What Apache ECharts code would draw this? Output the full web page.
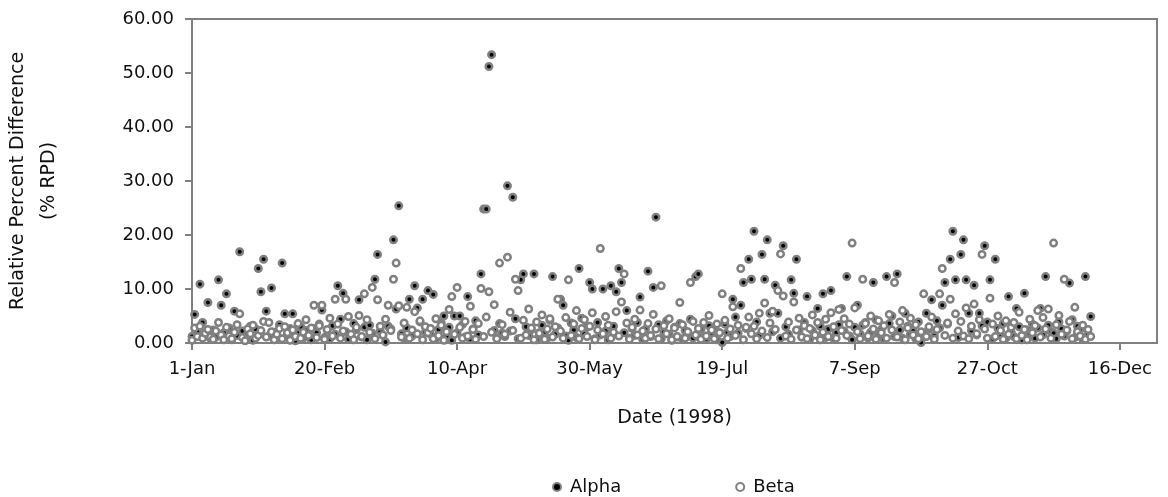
<!DOCTYPE html>
<html>
<head>
<meta charset="utf-8">
<script src="https://cdn.jsdelivr.net/npm/echarts@6/dist/echarts.min.js"></script>
<style>
  html, body { margin: 0; padding: 0; background: #fff; }
  #chart { width: 1168px; height: 497px; }
</style>
</head>
<body>
<div id="chart"></div>
<script>
// Daily relative percent difference; index 0 = 1 January.
// Tick dates are counted on a 366-day calendar (20-Feb -> 10-Apr is 50 days).
const tickCalendarYear = 2000;
const monthNames = ['Jan','Feb','Mar','Apr','May','Jun','Jul','Aug','Sep','Oct','Nov','Dec'];
const yTicks = [0, 10, 20, 30, 40, 50, 60];

const alphaRpd = [
  1.2, 5.3, 2.1, 10.9, 3.8, 1.6, 7.5, 0.8, 2.4, 1.1,
  11.7, 7.0, 1.9, 9.1, 2.8, 0.6, 5.9, 1.4, 16.9, 2.2,
  0.9, 1.7, 3.1, 0.5, 2.6, 13.8, 9.5, 15.5, 5.9, 1.3,
  10.2, 2.0, 0.7, 3.4, 14.8, 5.4, 1.5, 2.7, 5.4, 0.4,
  1.8, 3.0, 0.9, 2.3, 1.2, 0.6, 2.7, 1.9, 3.5, 6.1,
  1.0, 2.4, 0.8, 3.2, 1.6, 10.6, 4.4, 9.2, 2.1, 0.7,
  1.5, 3.6, 2.5, 8.0, 1.1, 2.9, 0.6, 3.3, 1.8, 11.8,
  16.4, 2.2, 1.4, 0.2, 3.1, 2.6, 19.1, 6.3, 25.4, 1.7,
  0.9, 2.8, 8.1, 1.3, 10.6, 6.5, 3.9, 8.1, 2.0, 9.7,
  1.6, 9.0, 0.8, 2.5, 3.7, 5.0, 1.2, 2.9, 0.5, 5.0,
  1.9, 5.0, 3.4, 1.1, 8.6, 0.7, 2.6, 4.1, 1.5, 12.8,
  24.8, 24.8, 51.2, 53.4, 2.3, 0.9, 3.6, 1.8, 1.2, 29.1,
  2.2, 27.0, 4.5, 0.8, 11.7, 12.8, 3.0, 1.4, 2.5, 12.8,
  0.6, 1.9, 3.3, 2.1, 0.9, 4.2, 12.3, 1.6, 2.8, 8.1,
  7.0, 1.3, 0.5, 3.7, 2.4, 1.0, 13.8, 4.6, 1.7, 2.9,
  11.2, 10.0, 0.8, 3.8, 1.5, 10.0, 2.2, 0.6, 10.6, 3.1,
  9.5, 13.8, 11.2, 1.9, 6.0, 0.9, 2.7, 1.4, 3.8, 8.5,
  0.7, 2.5, 13.3, 1.2, 10.3, 23.3, 3.4, 0.8, 2.0, 4.1,
  1.6, 0.5, 2.9, 1.1, 3.6, 0.8, 2.3, 1.5, 4.4, 0.9,
  12.3, 12.8, 2.6, 1.3, 0.7, 3.2, 1.8, 2.4, 0.6, 1.9,
  0.1, 3.5, 2.0, 1.2, 8.1, 4.8, 1.8, 7.0, 11.2, 2.7,
  15.5, 11.8, 20.7, 3.9, 1.4, 16.4, 11.8, 19.1, 5.5, 2.1,
  10.7, 5.5, 0.9, 18.0, 3.0, 1.6, 11.7, 9.2, 15.5, 2.4,
  1.1, 3.8, 8.6, 0.7, 2.3, 1.5, 6.4, 3.1, 9.1, 1.0,
  2.6, 9.7, 0.8, 1.9, 3.4, 6.4, 2.2, 12.3, 1.3, 0.6,
  2.9, 7.0, 1.7, 3.3, 3.8, 0.9, 2.0, 11.2, 4.3, 1.4,
  2.5, 0.7, 12.3, 3.6, 5.0, 1.2, 12.8, 2.4, 0.9, 5.5,
  3.1, 1.6, 2.2, 0.8, 3.9, 0.1, 1.9, 5.5, 2.6, 8.0,
  1.3, 4.1, 2.8, 7.0, 11.2, 3.5, 15.5, 20.7, 11.7, 1.0,
  16.4, 19.1, 11.7, 5.5, 2.3, 10.7, 1.5, 5.5, 3.2, 18.0,
  3.9, 11.7, 0.8, 15.5, 2.7, 1.4, 3.6, 0.9, 8.6, 2.0,
  1.2, 6.4, 3.0, 0.6, 9.2, 2.4, 1.7, 3.5, 0.9, 2.8,
  6.4, 1.5, 12.3, 3.3, 2.1, 1.8, 0.8, 3.9, 2.6, 1.3,
  2.2, 11.1, 4.3, 1.0, 3.1, 2.5, 0.7, 12.3, 1.6, 4.9
];

const betaRpd = [
  0.5, 2.8, 1.2, 3.1, 0.9, 1.8, 2.5, 1.1, 0.7, 2.2,
  3.8, 1.5, 0.6, 2.9, 1.3, 0.8, 2.0, 3.4, 5.4, 1.0,
  0.4, 2.6, 1.7, 3.3, 0.9, 1.4, 2.3, 4.0, 1.1, 3.8,
  2.1, 0.6, 1.6, 2.7, 0.8, 3.0, 1.9, 0.5, 2.4, 1.2,
  3.6, 0.9, 2.0, 4.3, 1.4, 2.8, 7.0, 1.0, 3.2, 7.0,
  0.7, 2.5, 4.6, 1.3, 8.1, 3.5, 0.9, 2.2, 8.1, 4.9,
  1.6, 0.6, 2.9, 5.1, 1.2, 9.1, 4.3, 2.0, 10.3, 0.8,
  8.0, 3.1, 1.5, 4.4, 7.0, 2.3, 11.8, 14.8, 6.9, 1.1,
  3.7, 6.6, 0.9, 2.4, 5.8, 1.7, 4.1, 0.6, 3.0, 1.9,
  2.7, 0.8, 4.5, 1.4, 3.3, 0.5, 2.1, 6.2, 8.6, 1.6,
  10.3, 2.9, 0.9, 4.0, 1.3, 6.8, 2.5, 0.7, 3.6, 10.1,
  1.2, 4.8, 9.5, 2.0, 7.1, 0.8, 14.8, 3.4, 1.6, 15.9,
  5.7, 2.3, 11.8, 9.7, 0.9, 4.2, 1.5, 6.3, 2.8, 0.6,
  3.9, 1.8, 5.2, 0.7, 2.6, 4.5, 1.1, 3.0, 8.1, 2.2,
  0.9, 4.7, 11.7, 1.4, 3.5, 6.0, 0.8, 2.7, 4.3, 1.2,
  3.1, 5.6, 0.6, 2.4, 17.5, 1.7, 4.9, 3.3, 0.9, 2.0,
  5.8, 1.3, 7.6, 12.8, 3.7, 0.7, 2.9, 4.4, 1.5, 6.1,
  2.2, 0.9, 3.6, 1.4, 5.3, 2.6, 0.8, 10.6, 3.2, 1.7,
  4.5, 0.6, 2.8, 1.2, 7.5, 3.4, 0.9, 2.1, 11.2, 4.0,
  1.5, 2.7, 0.7, 3.8, 1.3, 5.1, 2.4, 0.8, 3.5, 1.9,
  9.1, 4.2, 0.9, 2.6, 6.7, 1.4, 3.3, 13.8, 0.6, 2.9,
  4.8, 1.7, 3.1, 0.8, 5.5, 2.2, 7.4, 1.0, 3.7, 5.9,
  2.5, 9.7, 16.5, 8.7, 1.3, 3.9, 0.7, 7.6, 2.4, 4.6,
  1.1, 3.2, 0.8, 2.7, 5.2, 1.5, 3.8, 0.6, 2.0, 4.4,
  1.2, 5.6, 3.0, 0.9, 6.2, 2.3, 4.5, 1.4, 3.5, 18.5,
  6.5, 2.1, 0.8, 11.8, 3.6, 1.3, 5.0, 2.6, 0.7, 4.1,
  1.9, 3.2, 0.9, 5.3, 2.4, 11.2, 1.1, 3.9, 6.0, 0.6,
  2.8, 4.6, 1.5, 3.4, 0.8, 2.1, 9.1, 1.2, 3.0, 4.8,
  0.7, 2.5, 9.1, 13.8, 1.4, 3.7, 8.1, 0.9, 5.4, 2.2,
  4.0, 1.3, 6.5, 0.8, 3.1, 7.2, 1.7, 4.3, 16.4, 2.6,
  0.9, 8.3, 3.5, 1.2, 5.0, 2.3, 0.7, 4.1, 1.6, 2.9,
  3.8, 0.8, 5.7, 1.4, 2.5, 0.6, 4.4, 1.9, 3.2, 6.0,
  1.1, 4.7, 2.6, 6.3, 0.9, 18.5, 3.4, 5.1, 1.6, 11.8,
  2.4, 4.0, 0.8, 6.6, 2.1, 1.3, 3.3, 0.7, 2.5, 1.2
];

const FONT = 'DejaVu Sans';
const GREY = '#808080';
const INK = '#111111';

function dayLabel(offset) {
  const d = new Date(Date.UTC(tickCalendarYear, 0, 1) + offset * 86400000);
  return d.getUTCDate() + '-' + monthNames[d.getUTCMonth()];
}

const toPoints = arr => arr.map((v, i) => [i, v]);

const chart = echarts.init(document.getElementById('chart'));
chart.setOption({
  animation: false,
  backgroundColor: '#ffffff',
  grid: {
    left: 192, right: 11, top: 19, bottom: 154,
    outerBoundsMode: 'none',
    containLabel: false,
    show: true, borderColor: GREY, borderWidth: 2, backgroundColor: 'transparent'
  },
  xAxis: {
    type: 'value',
    min: 0, max: 364, interval: 50,
    name: 'Date (1998)',
    nameLocation: 'middle',
    nameGap: 66,
    nameTextStyle: { fontFamily: FONT, fontSize: 19, color: INK },
    axisLine: { show: true, lineStyle: { color: GREY, width: 2 } },
    axisTick: { show: true, inside: false, length: 7, lineStyle: { color: GREY, width: 2 } },
    axisLabel: {
      showMaxLabel: false,
      margin: 17,
      fontFamily: FONT, fontSize: 18, color: INK,
      formatter: v => (v % 50 === 0 ? dayLabel(v) : '')
    },
    splitLine: { show: false }
  },
  yAxis: {
    type: 'value',
    min: yTicks[0], max: yTicks[yTicks.length - 1], interval: 10,
    name: 'Relative Percent Difference\n(% RPD)',
    nameLocation: 'middle',
    nameGap: 127,
    nameTextStyle: { fontFamily: FONT, fontSize: 19, color: INK, lineHeight: 31 },
    axisLine: { show: true, lineStyle: { color: GREY, width: 2 } },
    axisTick: { show: true, inside: false, length: 7, lineStyle: { color: GREY, width: 2 } },
    axisLabel: {
      margin: 18,
      fontFamily: FONT, fontSize: 18, color: INK,
      formatter: v => v.toFixed(2)
    },
    splitLine: { show: false }
  },
  legend: {
    left: 547, top: 473,
    itemWidth: 8, itemHeight: 8, itemGap: 114,
    icon: 'circle',
    textStyle: { fontFamily: FONT, fontSize: 18, color: INK, padding: [0, 0, 0, 4] },
    data: ['Alpha', 'Beta']
  },
  series: [
    {
      name: 'Alpha',
      type: 'scatter',
      clip: false,
      symbol: 'circle',
      symbolSize: 6.5,
      itemStyle: { color: '#000000', borderColor: GREY, borderWidth: 2.5, opacity: 1 },
      data: toPoints(alphaRpd)
    },
    {
      name: 'Beta',
      type: 'scatter',
      clip: false,
      symbol: 'circle',
      symbolSize: 6.5,
      itemStyle: { color: '#ffffff', borderColor: GREY, borderWidth: 2.5, opacity: 1 },
      data: toPoints(betaRpd)
    }
  ]
});
</script>
</body>
</html>
